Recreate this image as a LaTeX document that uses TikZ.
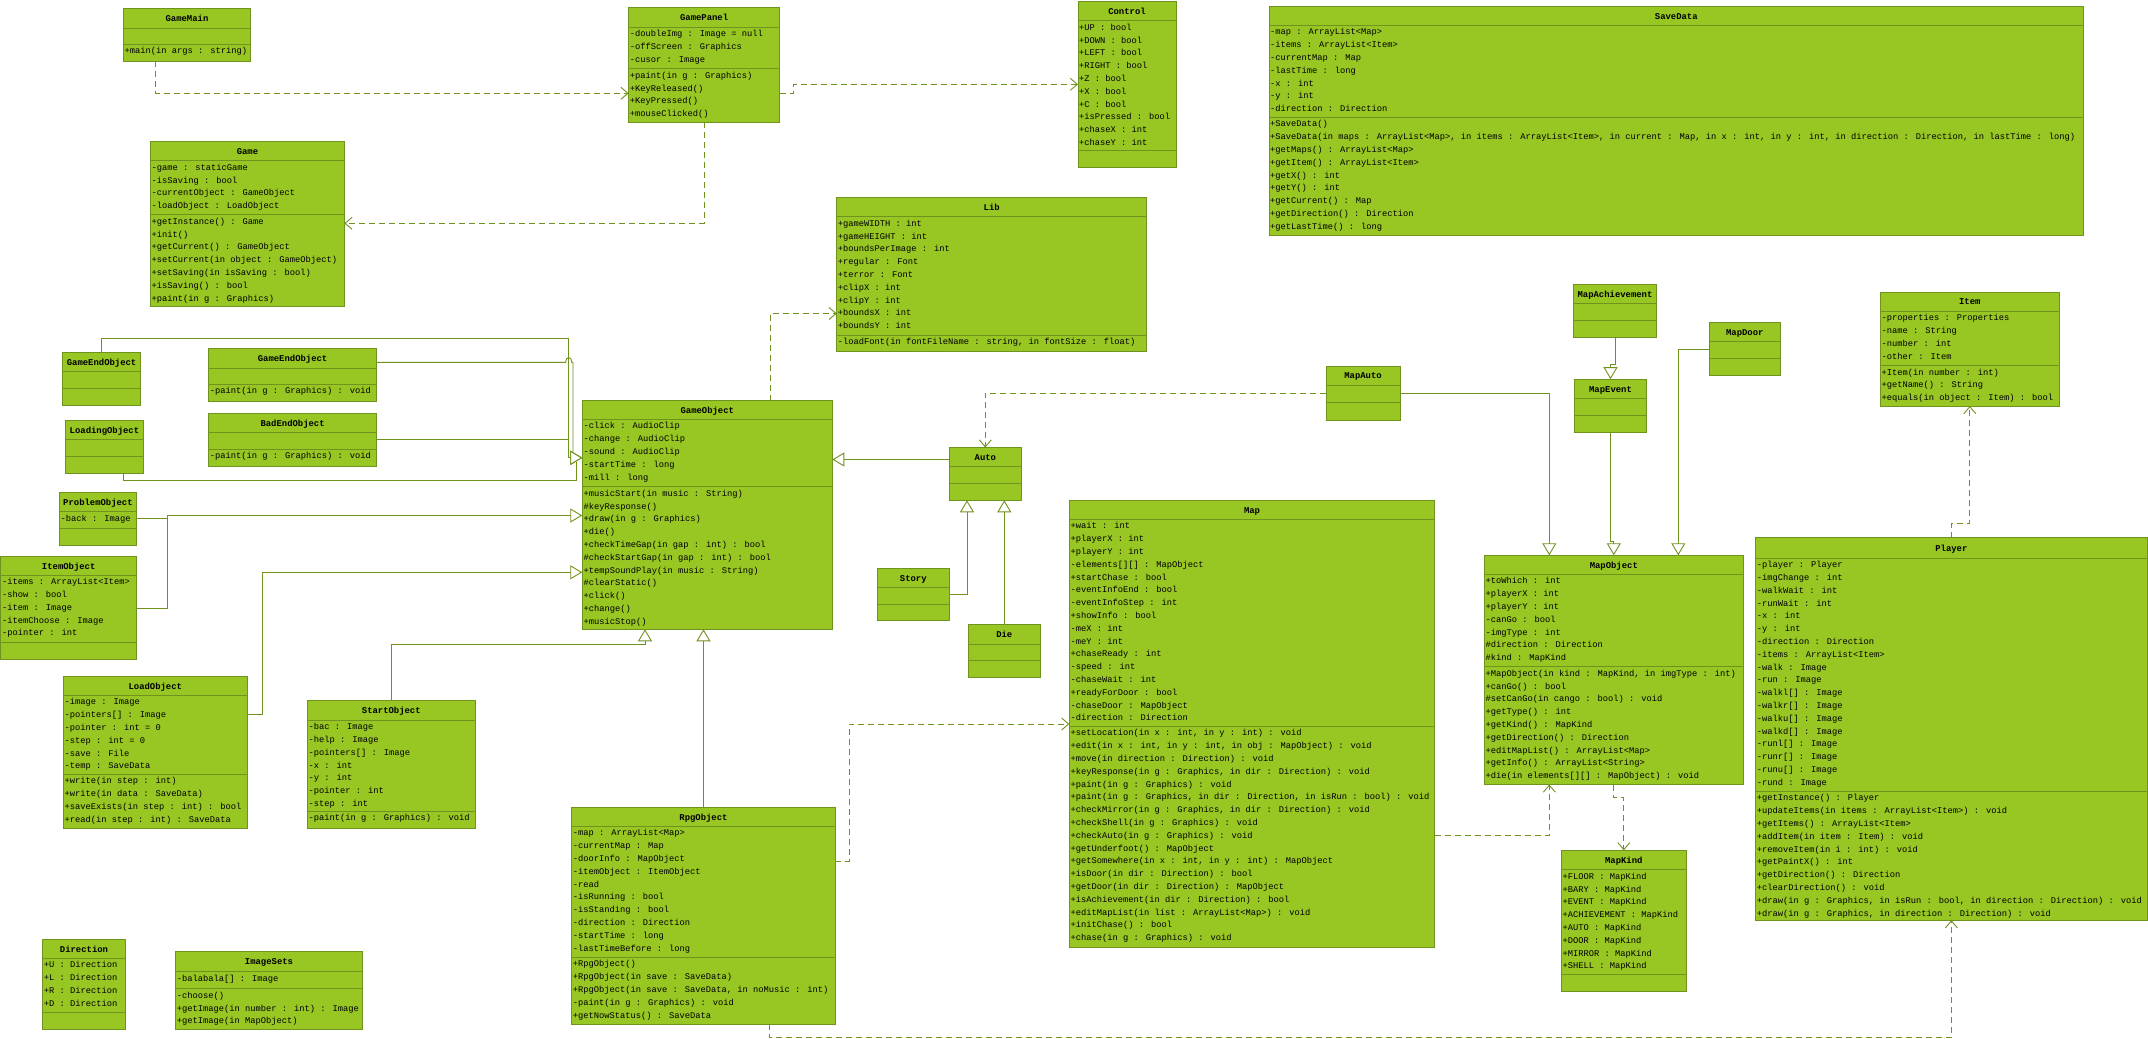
\documentclass[tikz,border=0pt]{standalone}
\usepackage{fontspec}
\usetikzlibrary{arrows.meta}
\newfontfamily\umlfont{Liberation Mono}
\newcommand{\umlf}{\umlfont\fontsize{8.75}{12.8}\selectfont}
\newcommand{\umlbf}{\umlfont\bfseries\fontsize{8.9}{12.8}\selectfont}
\definecolor{fillc}{RGB}{152,198,34}
\definecolor{linec}{RGB}{112,146,30}
\definecolor{conc}{RGB}{112,146,30}
\newcommand{\cl}[1]{\begin{tabular}[t]{@{}l@{}}#1\end{tabular}}
\tikzset{
 cbox/.style={draw=linec, fill=fillc, line width=0.9pt, inner sep=0pt, outer sep=0pt, anchor=north west},
 cline/.style={draw=linec, line width=0.9pt},
 ctitle/.style={anchor=base, inner sep=0pt, font=\umlbf},
 ctext/.style={anchor=base west, inner sep=0pt, font=\umlf},
 gen/.style={draw=conc, line width=0.9pt, -{Triangle[open, length=12pt, width=14pt, fill=white]}},
 dep/.style={draw=conc, line width=0.9pt, dash pattern=on 6pt off 4pt, -{Straight Barb[length=7pt, width=12pt]}},
 plain/.style={draw=conc, line width=0.9pt}
}
\newcommand{\umlcls}[8]{%
  \node[cbox, minimum width={#4pt-#2pt}, minimum height={#5pt-#3pt}] (#1) at (#2,#3) {};
  \draw[cline] (#2,#6) -- (#4,#6) (#2,#7) -- (#4,#7);
  \node[ctitle] (#1-t) at ({(#2+#4)/2},{(#3+#6)/2+3.2}) {#8};
}
\newcommand{\umltx}[4]{\node[ctext] (#1) at ({#2+1},{#3+9.6}) {\cl{#4}};}
\begin{document}
\begin{tikzpicture}[x=1pt,y=-1pt]
\fill[white] (0,0) rectangle (2148,1039);
\useasboundingbox (0,0) rectangle (2148,1039);

% ---------------- classes ----------------
\umlcls{gm}{123.5}{8.3}{250.5}{61.3}{28.3}{44.3}{GameMain}
\umltx{gm-o}{123.5}{44.3}{+main(in args : string)}

\umlcls{gp}{628.6}{7.3}{779.6}{122.3}{27.3}{68.7}{GamePanel}
\umltx{gp-a}{628.6}{27.3}{-doubleImg : Image = null\\-offScreen : Graphics\\-cusor : Image}
\umltx{gp-o}{628.6}{68.7}{+paint(in g : Graphics)\\+KeyReleased()\\+KeyPressed()\\+mouseClicked()}

\umlcls{game}{150.5}{141.3}{344.4}{306}{160.7}{214.7}{Game}
\umltx{game-a}{150.5}{160.7}{-game : staticGame\\-isSaving : bool\\-currentObject : GameObject\\-loadObject : LoadObject}
\umltx{game-o}{150.5}{214.7}{+getInstance() : Game\\+init()\\+getCurrent() : GameObject\\+setCurrent(in object : GameObject)\\+setSaving(in isSaving : bool)\\+isSaving() : bool\\+paint(in g : Graphics)}

\umlcls{ctrl}{1078}{1.5}{1176}{167.3}{20.7}{150.7}{Control}
\umltx{ctrl-a}{1078}{20.7}{+UP : bool\\+DOWN : bool\\+LEFT : bool\\+RIGHT : bool\\+Z : bool\\+X : bool\\+C : bool\\+isPressed : bool\\+chaseX : int\\+chaseY : int}

\umlcls{sd}{1269}{6.7}{2083.6}{235.3}{25.3}{117.3}{SaveData}
\umltx{sd-a}{1269}{25.3}{-map : ArrayList<Map>\\-items : ArrayList<Item>\\-currentMap : Map\\-lastTime : long\\-x : int\\-y : int\\-direction : Direction}
\umltx{sd-o}{1269}{117.3}{+SaveData()\\+SaveData(in maps : ArrayList<Map>, in items : ArrayList<Item>, in current : Map, in x : int, in y : int, in direction : Direction, in lastTime : long)\\+getMaps() : ArrayList<Map>\\+getItem() : ArrayList<Item>\\+getX() : int\\+getY() : int\\+getCurrent() : Map\\+getDirection() : Direction\\+getLastTime() : long}

\umlcls{lib}{836.7}{197.3}{1146.7}{351.7}{216.7}{335}{Lib}
\umltx{lib-a}{836.7}{216.7}{+gameWIDTH : int\\+gameHEIGHT : int\\+boundsPerImage : int\\+regular : Font\\+terror : Font\\+clipX : int\\+clipY : int\\+boundsX : int\\+boundsY : int}
\umltx{lib-o}{836.7}{335}{-loadFont(in fontFileName : string, in fontSize : float)}

\umlcls{gobj}{582.3}{400.7}{832.3}{629.3}{419.3}{486.7}{GameObject}
\umltx{gobj-a}{582.3}{419.3}{-click : AudioClip\\-change : AudioClip\\-sound : AudioClip\\-startTime : long\\-mill : long}
\umltx{gobj-o}{582.3}{486.7}{+musicStart(in music : String)\\\#keyResponse()\\+draw(in g : Graphics)\\+die()\\+checkTimeGap(in gap : int) : bool\\\#checkStartGap(in gap : int) : bool\\+tempSoundPlay(in music : String)\\\#clearStatic()\\+click()\\+change()\\+musicStop()}

\umlcls{ge1}{62.4}{352.3}{140.8}{405.3}{371.7}{388.7}{GameEndObject}

\umlcls{ge2}{208.6}{348.3}{376.6}{401}{368.3}{384.3}{GameEndObject}
\umltx{ge2-o}{208.6}{384.3}{-paint(in g : Graphics) : void}

\umlcls{be}{208.6}{413.3}{376.6}{466.3}{432.7}{449}{BadEndObject}
\umltx{be-o}{208.6}{449}{-paint(in g : Graphics) : void}

\umlcls{lo}{65.4}{420.3}{143.5}{473.3}{439.3}{456.3}{LoadingObject}

\umlcls{po}{59.3}{492.3}{136.6}{545.3}{511.7}{528.7}{ProblemObject}
\umltx{po-a}{59.3}{511.7}{-back : Image}

\umlcls{io}{0.8}{556.7}{136.6}{659.3}{575}{642.3}{ItemObject}
\umltx{io-a}{0.8}{575}{-items : ArrayList<Item>\\-show : bool\\-item : Image\\-itemChoose : Image\\-pointer : int}

\umlcls{ldo}{63.3}{676.3}{247.3}{828.3}{695.3}{774.3}{LoadObject}
\umltx{ldo-a}{63.3}{695.3}{-image : Image\\-pointers[] : Image\\-pointer : int = 0\\-step : int = 0\\-save : File\\-temp : SaveData}
\umltx{ldo-o}{63.3}{774.3}{+write(in step : int)\\+write(in data : SaveData)\\+saveExists(in step : int) : bool\\+read(in step : int) : SaveData}

\umlcls{so}{307.3}{700.7}{475.3}{828.3}{720}{811.3}{StartObject}
\umltx{so-a}{307.3}{720}{-bac : Image\\-help : Image\\-pointers[] : Image\\-x : int\\-y : int\\-pointer : int\\-step : int}
\umltx{so-o}{307.3}{811.3}{-paint(in g : Graphics) : void}

\umlcls{dir}{42.7}{939.7}{125.3}{1029}{958.3}{1012}{Direction}
\umltx{dir-a}{42.7}{958.3}{+U : Direction\\+L : Direction\\+R : Direction\\+D : Direction}

\umlcls{is}{175.7}{951.7}{362.3}{1029}{971.7}{988.7}{ImageSets}
\umltx{is-a}{175.7}{971.7}{-balabala[] : Image}
\umltx{is-o}{175.7}{988.7}{-choose()\\+getImage(in number : int) : Image\\+getImage(in MapObject)}

\umlcls{rpg}{571.6}{807.7}{835.3}{1024.3}{826.3}{957.3}{RpgObject}
\umltx{rpg-a}{571.6}{826.3}{-map : ArrayList<Map>\\-currentMap : Map\\-doorInfo : MapObject\\-itemObject : ItemObject\\-read\\-isRunning : bool\\-isStanding : bool\\-direction : Direction\\-startTime : long\\-lastTimeBefore : long}
\umltx{rpg-o}{571.6}{957.3}{+RpgObject()\\+RpgObject(in save : SaveData)\\+RpgObject(in save : SaveData, in noMusic : int)\\-paint(in g : Graphics) : void\\+getNowStatus() : SaveData}

\umlcls{auto}{949.5}{447.5}{1021.3}{500.3}{466.7}{483.7}{Auto}
\umlcls{story}{877.3}{568.7}{949.3}{620}{587.7}{604.3}{Story}
\umlcls{die}{968.3}{624.3}{1040.3}{677}{644.3}{660.7}{Die}

\umlcls{map}{1069.3}{500.7}{1434.7}{947.3}{519.3}{726.3}{Map}
\umltx{map-a}{1069.3}{519.3}{+wait : int\\+playerX : int\\+playerY : int\\-elements[][] : MapObject\\+startChase : bool\\-eventInfoEnd : bool\\-eventInfoStep : int\\+showInfo : bool\\-meX : int\\-meY : int\\+chaseReady : int\\-speed : int\\-chaseWait : int\\+readyForDoor : bool\\-chaseDoor : MapObject\\-direction : Direction}
\umltx{map-o}{1069.3}{726.3}{+setLocation(in x : int, in y : int) : void\\+edit(in x : int, in y : int, in obj : MapObject) : void\\+move(in direction : Direction) : void\\+keyResponse(in g : Graphics, in dir : Direction) : void\\+paint(in g : Graphics) : void\\+paint(in g : Graphics, in dir : Direction, in isRun : bool) : void\\+checkMirror(in g : Graphics, in dir : Direction) : void\\+checkShell(in g : Graphics) : void\\+checkAuto(in g : Graphics) : void\\+getUnderfoot() : MapObject\\+getSomewhere(in x : int, in y : int) : MapObject\\+isDoor(in dir : Direction) : bool\\+getDoor(in dir : Direction) : MapObject\\+isAchievement(in dir : Direction) : bool\\+editMapList(in list : ArrayList<Map>) : void\\+initChase() : bool\\+chase(in g : Graphics) : void}

\umlcls{mauto}{1326}{366}{1400}{420}{385}{402}{MapAuto}
\umlcls{ma}{1573.3}{284.2}{1656.7}{337.3}{303.5}{320.7}{MapAchievement}
\umlcls{me}{1574.3}{379.2}{1646.7}{432.6}{398.5}{415.7}{MapEvent}
\umlcls{md}{1709.3}{322.4}{1780.3}{375.5}{341.3}{358.6}{MapDoor}

\umlcls{mo}{1484.3}{555.3}{1743.3}{784.5}{574.3}{666.6}{MapObject}
\umltx{mo-a}{1484.3}{574.3}{+toWhich : int\\+playerX : int\\+playerY : int\\-canGo : bool\\-imgType : int\\\#direction : Direction\\\#kind : MapKind}
\umltx{mo-o}{1484.3}{666.6}{+MapObject(in kind : MapKind, in imgType : int)\\+canGo() : bool\\\#setCanGo(in cango : bool) : void\\+getType() : int\\+getKind() : MapKind\\+getDirection() : Direction\\+editMapList() : ArrayList<Map>\\+getInfo() : ArrayList<String>\\+die(in elements[][] : MapObject) : void}

\umlcls{mk}{1561.3}{850.3}{1686.3}{991.3}{869.7}{974.3}{MapKind}
\umltx{mk-a}{1561.3}{869.7}{+FLOOR : MapKind\\+BARY : MapKind\\+EVENT : MapKind\\+ACHIEVEMENT : MapKind\\+AUTO : MapKind\\+DOOR : MapKind\\+MIRROR : MapKind\\+SHELL : MapKind}

\umlcls{item}{1880.3}{292.4}{2059.3}{406}{311}{365.5}{Item}
\umltx{item-a}{1880.3}{311}{-properties : Properties\\-name : String\\-number : int\\-other : Item}
\umltx{item-o}{1880.3}{365.5}{+Item(in number : int)\\+getName() : String\\+equals(in object : Item) : bool}

\umlcls{player}{1755.7}{537.7}{2147}{920.2}{558}{791.2}{Player}
\umltx{player-a}{1755.7}{558}{-player : Player\\-imgChange : int\\-walkWait : int\\-runWait : int\\-x : int\\-y : int\\-direction : Direction\\-items : ArrayList<Item>\\-walk : Image\\-run : Image\\-walkl[] : Image\\-walkr[] : Image\\-walku[] : Image\\-walkd[] : Image\\-runl[] : Image\\-runr[] : Image\\-runu[] : Image\\-rund : Image}
\umltx{player-o}{1755.7}{791.2}{+getInstance() : Player\\+updateItems(in items : ArrayList<Item>) : void\\+getItems() : ArrayList<Item>\\+addItem(in item : Item) : void\\+removeItem(in i : int) : void\\+getPaintX() : int\\+getDirection() : Direction\\+clearDirection() : void\\+draw(in g : Graphics, in isRun : bool, in direction : Direction) : void\\+draw(in g : Graphics, in direction : Direction) : void}

% ---------------- dependencies ----------------
\draw[dep] (gm.south -| 155.6,0) |- (gp.west |- 0,93.3);
\draw[dep] (gp.south) |- (game.east |- 0,223.3);
\draw[dep] (gp.east |- 0,93.3) -- (793,93.3) |- (ctrl.west |- 0,84.3);
\draw[dep] (gobj.north -| 770.3,0) |- (lib.west |- 0,313.5);
\draw[dep] (mauto.west) -| (auto.north -| 985.3,0);
\draw[dep] (rpg.east |- 0,861) -| (849.5,724) -- (map.west |- 0,724);
\draw[dep] (rpg.south -| 769.5,0) |- (player.south |- 0,1037.7) -- (player.south);
\draw[dep] (map.east |- 0,835.3) -| (mo.south -| 1549.3,0);
\draw[dep] (mo.south) -- ++(0,12.5) -| (mk.north);
\draw[dep] (player.north) -- ++(0,-14) -| (item.south);

% ---------------- generalizations ----------------
\coordinate (T1) at (582.3,457.8);
\draw[gen] (ge1.north) -- ++(0,-14) -| (568.7,457.8) -- (T1);
\draw[gen] (ge2.east |- 0,362.3) -- (565.6,362.3) .. controls (565.6,356) and (571.8,356) .. (571.8,362.3) -- (573,362.3) -- (573,457.8) -- (T1);
\draw[gen] (be.east |- 0,439.3) -| (568.7,457.8) -- (T1);
\draw[plain] (lo.south -| 123.2,0) |- (576,480.3) -- (576,461.5);
\draw[plain] (po.east |- 0,518.3) -- (167.2,518.3);
\draw[gen] (io.east |- 0,608.3) -| (167.2,515.5) -- (gobj.west |- 0,515.5);
\draw[gen] (ldo.east |- 0,714) -| (262.5,572.3) -- (gobj.west |- 0,572.3);
\draw[gen] (so.north) |- (645,644.3) -- (gobj.south -| 645,0);
\draw[gen] (rpg.north) -- (rpg.north |- gobj.south);
\draw[gen] (auto.west |- 0,459.5) -- (gobj.east |- 0,459.5);
\draw[gen] (story.east |- 0,594) -| (auto.south -| 967,0);
\draw[gen] (die.north) -- (die.north |- auto.south);
\draw[gen] (ma.south) -- ++(0,27) -| (me.north);
\draw[gen] (me.south) |- (mo.north |- 0,541.5) -- (mo.north);
\draw[gen] (md.west) -| (mo.north -| 1678.3,0);
\draw[gen] (mauto.east) -| (mo.north -| 1549.3,0);
\end{tikzpicture}
\end{document}
